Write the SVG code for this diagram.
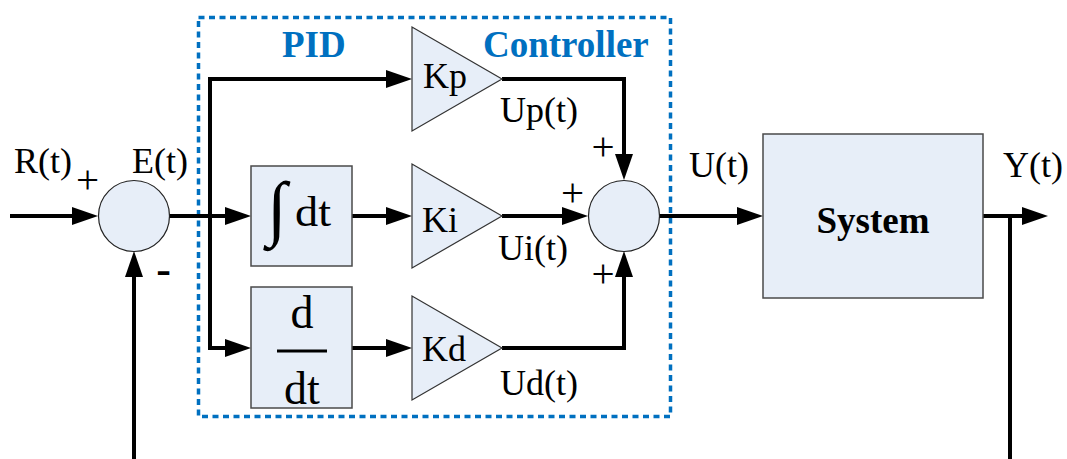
<svg xmlns="http://www.w3.org/2000/svg" width="1067" height="459" viewBox="0 0 1067 459">
<style>
.blk{fill:#E7EEF8;stroke:#4a4a4a;stroke-width:1.5}
.sum{fill:#E7EEF8;stroke:#222;stroke-width:1.2}
.tri{fill:#E7EEF8;stroke:#333;stroke-width:1.2}
.ln{fill:none;stroke:#000;stroke-width:4;stroke-linejoin:miter}
.t{font-family:"Liberation Serif","Times New Roman",serif;font-size:36px;fill:#000}
.b{font-family:"Liberation Serif","Times New Roman",serif;font-weight:bold;font-size:37px;fill:#0070C0}
.s{font-family:"Liberation Serif","Times New Roman",serif;font-size:41px;fill:#000}
</style>
<defs>
<marker id="ar" viewBox="0 0 26 18" refX="16" refY="9" markerWidth="26" markerHeight="18" markerUnits="userSpaceOnUse" orient="auto">
<path d="M0,0 L26,9 L0,18 z" fill="#000"/>
</marker>
</defs>
<rect x="0" y="0" width="1067" height="459" fill="#fff"/>
<g id="pid-frame">
<rect x="198.5" y="17.5" width="472" height="399" fill="none" stroke="#0070C0" stroke-width="3.5" stroke-dasharray="6 4.5"/>
<text class="b" x="282" y="57">PID</text>
<text class="b" x="483" y="57">Controller</text>
</g>
<g id="connectors">
<path class="ln" d="M10,216 H88" marker-end="url(#ar)"/>
<path class="ln" d="M134,459 V261" marker-end="url(#ar)"/>
<path class="ln" d="M169,216 H241" marker-end="url(#ar)"/>
<path class="ln" d="M210,216 V79 H402" marker-end="url(#ar)"/>
<path class="ln" d="M210,216 V348 H241" marker-end="url(#ar)"/>
<path class="ln" d="M352,216 H402" marker-end="url(#ar)"/>
<path class="ln" d="M352,348 H402" marker-end="url(#ar)"/>
<path class="ln" d="M502,79 H624 V170" marker-end="url(#ar)"/>
<path class="ln" d="M502,216 H578" marker-end="url(#ar)"/>
<path class="ln" d="M502,348 H624 V261" marker-end="url(#ar)"/>
<path class="ln" d="M659,216 H753" marker-end="url(#ar)"/>
<path class="ln" d="M983,216 H1038" marker-end="url(#ar)"/>
<path class="ln" d="M1010,216 V459"/>
</g>
<g id="sum1">
<circle class="sum" cx="134" cy="216" r="35.5"/>
</g>
<g id="integral">
<rect class="blk" x="251" y="166" width="101" height="100"/>
<text class="t" x="267" y="232" style="font-size:72px">∫</text>
<text class="t" x="295" y="226" style="font-size:42px" textLength="36" lengthAdjust="spacingAndGlyphs">dt</text>
</g>
<g id="derivative">
<rect class="blk" x="251" y="287" width="101" height="121"/>
<text class="t" x="302" y="328" text-anchor="middle" style="font-size:46px">d</text>
<line x1="277" y1="351" x2="327" y2="351" stroke="#000" stroke-width="3"/>
<text class="t" x="302" y="404" text-anchor="middle" style="font-size:46px">dt</text>
</g>
<g id="kp">
<polygon class="tri" points="412,27 412,131 502,79"/>
<text class="t" x="423" y="88">Kp</text>
</g>
<g id="ki">
<polygon class="tri" points="412,164 412,268 502,216"/>
<text class="t" x="422" y="232">Ki</text>
</g>
<g id="kd">
<polygon class="tri" points="412,296 412,400 502,348"/>
<text class="t" x="422" y="361">Kd</text>
</g>
<g id="sum2">
<circle class="sum" cx="624" cy="216" r="35.5"/>
</g>
<g id="system">
<rect class="blk" x="763" y="134" width="220" height="164"/>
<text class="t" x="873" y="233" text-anchor="middle" style="font-weight:bold;font-size:37px">System</text>
</g>
<g id="labels">
<text class="t" x="14" y="173">R(t)</text>
<text class="s" x="87.5" y="193" text-anchor="middle">+</text>
<text class="t" x="132" y="173">E(t)</text>
<text class="t" x="163.5" y="284" text-anchor="middle" style="font-weight:bold;font-size:44px">-</text>
<text class="t" x="500" y="122">Up(t)</text>
<text class="t" x="498" y="260">Ui(t)</text>
<text class="t" x="500" y="395">Ud(t)</text>
<text class="s" x="603" y="160" text-anchor="middle">+</text>
<text class="s" x="572.5" y="206" text-anchor="middle">+</text>
<text class="s" x="603" y="287" text-anchor="middle">+</text>
<text class="t" x="689" y="177">U(t)</text>
<text class="t" x="1003" y="177">Y(t)</text>
</g>
</svg>
